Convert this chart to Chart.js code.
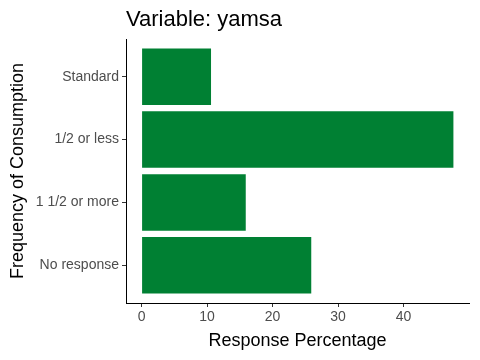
<!DOCTYPE html>
<html>
<head>
<meta charset="utf-8">
<script src="https://cdn.jsdelivr.net/npm/chart.js@4"></script>
<style>
  html, body { margin: 0; padding: 0; background: #fff; }
  #wrap { width: 480px; height: 360px; }
</style>
</head>
<body>
<div id="wrap"><canvas id="chart" width="480" height="360"></canvas></div>
<script>
// values
const categories = ["Standard", "1/2 or less", "1 1/2 or more", "No response"];
const percentages = [10.6, 47.6, 15.9, 25.9];
const xTicks = [0, 10, 20, 30, 40];

const titleText = "Variable: yamsa";
const FONT = "'Liberation Sans', Arial, sans-serif";

// title drawn at left edge of the plot panel, like ggplot
const titlePlugin = {
  id: "panelTitle",
  afterDraw(chart) {
    const c = chart.ctx;
    c.save();
    c.font = "22px " + FONT;
    c.fillStyle = "#000";
    c.textBaseline = "middle";
    c.textAlign = "left";
    c.fillText(titleText, chart.chartArea.left, 20);
    c.restore();
  }
};

const points = percentages.map((v, i) => ({ x: v, y: i + 1 }));

new Chart(document.getElementById("chart"), {
  type: "bar",
  data: {
    datasets: [{
      data: points,
      backgroundColor: "#008033",
      borderWidth: 0,
      categoryPercentage: 1,
      barPercentage: 0.9
    }]
  },
  options: {
    indexAxis: "y",
    responsive: false,
    animation: false,
    layout: { padding: { top: 39, right: 11, left: 0, bottom: 0 } },
    plugins: { legend: { display: false }, tooltip: { enabled: false }, title: { display: false } },
    scales: {
      x: {
        type: "linear",
        min: -2.38,
        max: 49.98,
        afterBuildTicks(scale) { scale.ticks = xTicks.map(v => ({ value: v })); },
        afterFit(scale) { scale.height = 57; },
        border: { display: true, color: "#000", width: 1 },
        grid: { display: true, drawOnChartArea: false, drawTicks: true, tickLength: 4, color: "#333" },
        ticks: { color: "#4d4d4d", font: { family: FONT, size: 14 }, padding: 2 },
        title: { display: true, text: "Response Percentage", color: "#000",
                 font: { family: FONT, size: 18 }, padding: { top: 0, bottom: 8 } }
      },
      y: {
        type: "linear",
        reverse: true,
        offset: false,
        min: 0.4,
        max: 4.6,
        afterBuildTicks(scale) { scale.ticks = categories.map((c, i) => ({ value: i + 1 })); },
        afterFit(scale) { scale.width = 126; },
        border: { display: true, color: "#000", width: 1 },
        grid: { display: true, offset: false, drawOnChartArea: false, drawTicks: true, tickLength: 4, color: "#333" },
        ticks: {
          color: "#4d4d4d", font: { family: FONT, size: 14 }, padding: 3,
          callback: (v) => categories[v - 1]
        },
        title: { display: true, text: "Frequency of Consumption", color: "#000",
                 font: { family: FONT, size: 18 }, padding: { top: 7, bottom: 0 } }
      }
    }
  },
  plugins: [titlePlugin]
});
</script>
</body>
</html>
